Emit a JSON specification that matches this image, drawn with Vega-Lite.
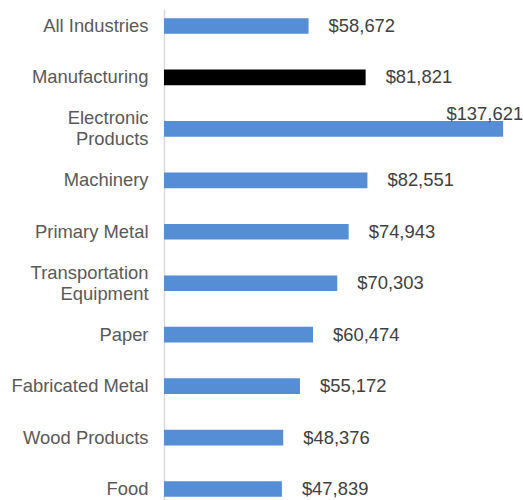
{
  "$schema": "https://vega.github.io/schema/vega-lite/v6.json",
  "width": 345,
  "height": 497,
  "autosize": "none",
  "padding": {"left": 164, "top": 9, "right": 14, "bottom": 0},
  "background": "white",
  "config": {"view": {"stroke": null}, "font": "Liberation Sans"},
  "data": {
    "values": [
      {"industry": "All Industries", "wage": 58672},
      {"industry": "Manufacturing", "wage": 81821},
      {"industry": "Electronic Products", "wage": 137621},
      {"industry": "Machinery", "wage": 82551},
      {"industry": "Primary Metal", "wage": 74943},
      {"industry": "Transportation Equipment", "wage": 70303},
      {"industry": "Paper", "wage": 60474},
      {"industry": "Fabricated Metal", "wage": 55172},
      {"industry": "Wood Products", "wage": 48376},
      {"industry": "Food", "wage": 47839}
    ]
  },
  "encoding": {
    "y": {
      "field": "industry",
      "type": "nominal",
      "sort": null,
      "scale": {"paddingInner": 0.695, "paddingOuter": 0.178},
      "axis": {
        "title": null,
        "ticks": false,
        "domainColor": "#d9d9d9",
        "domainWidth": 1.5,
        "labelFontSize": 18.4,
        "labelFont": "Liberation Sans",
        "labelColor": "#595959",
        "labelPadding": 16,
        "labelLineHeight": 21,
        "labelLimit": 0,
        "labelOffset": {
          "condition": {"test": "datum.value == 'Electronic Products' || datum.value == 'Transportation Equipment'", "value": -10.5},
          "value": 0
        },
        "labelExpr": "datum.value == 'Electronic Products' ? ['Electronic', 'Products'] : datum.value == 'Transportation Equipment' ? ['Transportation', 'Equipment'] : datum.value"
      }
    },
    "x": {
      "field": "wage",
      "type": "quantitative",
      "scale": {"domain": [0, 140000]},
      "axis": null
    }
  },
  "layer": [
    {
      "mark": {"type": "bar"},
      "encoding": {
        "color": {
          "condition": {"test": "datum.industry === 'Manufacturing'", "value": "#000000"},
          "value": "#558ED5"
        }
      }
    },
    {
      "transform": [{"filter": "datum.industry !== 'Electronic Products'"}],
      "mark": {"type": "text", "align": "left", "baseline": "middle", "dx": 20, "fontSize": 18.4, "color": "#404040", "font": "Liberation Sans"},
      "encoding": {"text": {"field": "wage", "type": "quantitative", "format": "$,.0f"}}
    },
    {
      "transform": [{"filter": "datum.industry === 'Electronic Products'"}],
      "mark": {"type": "text", "align": "right", "baseline": "middle", "dx": 20, "dy": -15, "fontSize": 18.4, "color": "#404040", "font": "Liberation Sans"},
      "encoding": {"text": {"field": "wage", "type": "quantitative", "format": "$,.0f"}}
    }
  ]
}
